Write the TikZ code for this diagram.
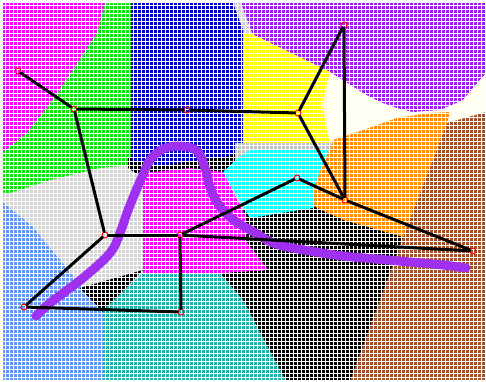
\documentclass[tikz,border=0pt]{standalone}
\definecolor{cMag}{HTML}{FF00FF}
\definecolor{cGreen}{HTML}{10E010}
\definecolor{cBlue}{HTML}{0000C0}
\definecolor{cViolet}{HTML}{A020F0}
\definecolor{cYellow}{HTML}{FFFF00}
\definecolor{cIvory}{HTML}{FFFFF0}
\definecolor{cOrange}{HTML}{FF8C00}
\definecolor{cBrown}{HTML}{A0522D}
\definecolor{cCyan}{HTML}{00FFFF}
\definecolor{cSilver}{HTML}{C0C0C0}
\definecolor{cLight}{HTML}{D3D3D3}
\definecolor{cTeal}{HTML}{20B2AA}
\definecolor{cCorn}{HTML}{6495ED}
\definecolor{cCurve}{HTML}{A030F0}
\begin{document}
\begin{tikzpicture}[x=1pt,y=-1pt,
  gridline/.style={white,line width=0.9pt},
  link/.style={black,line width=3pt,line cap=round},
  vtx/.style={circle,draw=red,line width=1pt,minimum size=6pt,inner sep=0pt}]
\useasboundingbox (0,0) rectangle (486,381);
\fill[white] (0,0) rectangle (486,381);
\begin{scope}
\clip (3,3) rectangle (486,379);
\fill[cLight] (0,0) rectangle (486,381);
% ivory
\fill[cIvory] (320,60) -- (486,60) -- (486,116) -- (447,123) -- (343,152) -- (320,152) -- cycle;
% brown
\fill[cBrown] (447,123) -- (486,112) -- (486,381) -- (350,381) -- (403,237) -- cycle;
% orange
\fill[cOrange] (333,140) -- (343,137) -- (363,130) -- (397,118) -- (430,113) -- (450,112) -- (447,123) -- (403,237) -- (343,220) -- (310,210) -- (313,187) -- cycle;
% violet
\fill[cViolet] (238,0) -- (486,0) -- (486,73) -- (477,83) -- (463,100) -- (440,110) -- (413,112) -- (397,108) -- (380,102) -- (363,93) -- (343,80) -- (330,72) -- (250,33) -- cycle;
% yellow
\fill[cYellow] (243,33) -- (250,33) -- (330,72) -- (322,105) -- (330,143) -- (243,143) -- cycle;
% sliver
\fill[cLight] (230,0) -- (240,0) -- (252,33) -- (243,33) -- cycle;
% magenta top left
\fill[cMag] (0,0) -- (106,0) -- (97,33) -- (75,67) -- (53,100) -- (27,133) -- (0,155) -- cycle;
% green
\fill[cGreen] (106,0) -- (131,0) -- (131,165) -- (100,168) -- (50,180) -- (10,193) -- (0,195) -- (0,155) -- (27,133) -- (53,100) -- (75,67) -- (97,33) -- cycle;
% dark strip under blue
\fill[black] (128,158) -- (245,148) -- (245,168) -- (225,178) -- (143,178) -- (128,168) -- cycle;
% blue
\fill[cBlue] (131,0) -- (232,0) -- (243,30) -- (243,147) -- (230,156) -- (200,160) -- (160,166) -- (131,160) -- cycle;
% silver band
\fill[cSilver] (235,143) -- (333,143) -- (325,160) -- (235,165) -- cycle;
% big black
\fill[black] (240,210) -- (313,206) -- (343,220) -- (403,237) -- (350,381) -- (286,381) -- (220,273) -- (268,270) -- (245,240) -- cycle;
% cyan
\fill[cCyan] (238,158) -- (250,150) -- (328,150) -- (313,190) -- (313,208) -- (250,218) -- (223,172) -- cycle;
% pink middle
\fill[cMag] (143,173) -- (190,168) -- (223,172) -- (245,215) -- (245,240) -- (268,270) -- (220,273) -- (143,273) -- cycle;
% cornflower
\fill[cCorn] (0,200) -- (33,227) -- (60,260) -- (82,287) -- (103,310) -- (103,381) -- (0,381) -- cycle;
% black wedge
\fill[black] (80,288) -- (143,270) -- (103,312) -- cycle;
% teal
\fill[cTeal] (103,310) -- (143,273) -- (220,273) -- (243,300) -- (286,381) -- (103,381) -- cycle;
% grid
\foreach \i in {1,5,...,489} \draw[gridline] (\i,0) -- (\i,381);
\foreach \j in {1,5,...,385} \draw[gridline] (0,\j) -- (486,\j);
\end{scope}
% purple curve
\draw[cCurve,line width=9pt,line cap=round,line join=round] plot[smooth,tension=0.6] coordinates {(36,316) (50,303) (83,278) (110,253) (120,233) (127,213) (135,193) (142,177) (150,160) (163,149) (180,146) (197,151) (205,168) (211,190) (221,208) (235,221) (252,231) (276,244) (310,251) (343,256) (376,259) (410,262) (443,265) (466,268)};
% nodes
\node[vtx] (A) at (18,71) {};
\node[vtx] (B) at (74,109) {};
\node[vtx] (C) at (187,110) {};
\node[vtx] (D) at (298,113) {};
\node[vtx] (E) at (344,25) {};
\node[vtx] (F) at (345,200) {};
\node[vtx] (G) at (297,178) {};
\node[vtx] (H) at (473,251) {};
\node[vtx] (I) at (105,235) {};
\node[vtx] (J) at (180,235) {};
\node[vtx] (K) at (24,307) {};
\node[vtx] (L) at (181,312) {};
% edges
\draw[link] (A) -- (B);
\draw[link] (B) -- (C);
\draw[link] (C) -- (D);
\draw[link] (B) -- (I);
\draw[link] (D) -- (E);
\draw[link] (D) -- (F);
\draw[link] (E) -- (F);
\draw[link] (I) -- (J);
\draw[link] (I) -- (K);
\draw[link] (K) -- (L);
\draw[link] (J) -- (L);
\draw[link] (J) -- (G);
\draw[link] (G) -- (F);
\draw[link] (J) -- (H);
\draw[link] (F) -- (H);
\end{tikzpicture}
\end{document}
